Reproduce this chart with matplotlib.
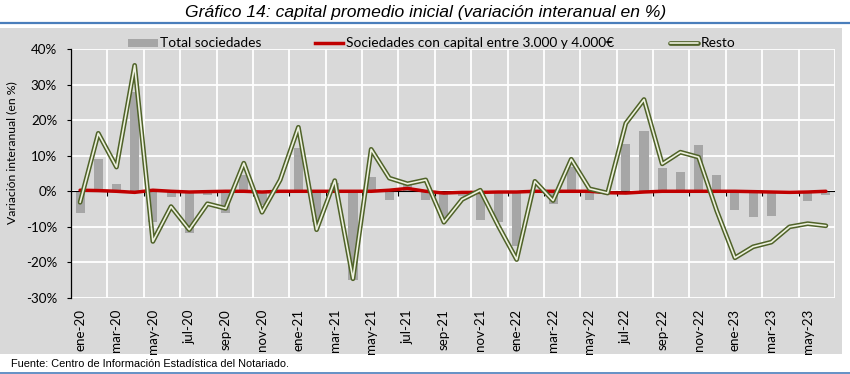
import matplotlib
matplotlib.use("Agg")
import matplotlib.pyplot as plt
import numpy as np
from matplotlib.patches import Rectangle
from matplotlib.lines import Line2D

months = ["ene", "feb", "mar", "abr", "may", "jun", "jul", "ago", "sep", "oct", "nov", "dic"]
categories = [f"{m}-{y}" for y in ["20", "21", "22", "23"] for m in months][:42]

total_sociedades = [-6.1, 9.1, 2.1, 28.0, -8.7, -1.5, -11.7, -1.0, -6.1, 4.5,
                    -3.8, 0.5, 12.1, -8.7, 2.3, -24.8, 4.1, -2.4, 2.1, -2.4,
                    -7.5, -1.4, -8.0, -8.5, -15.5, 0.5, -3.5, 6.9, -2.4, -0.5,
                    13.3, 17.0, 6.5, 5.5, 13.0, 4.6, -5.2, -7.3, -6.9, -0.2,
                    -2.6, -1.1]

soc_3000_4000 = [0.3, 0.2, 0.0, -0.3, 0.3, 0.0, -0.2, -0.1, 0.0, 0.0,
                 -0.2, 0.0, 0.0, 0.0, 0.0, 0.0, 0.0, 0.3, 0.8, 0.0,
                 -0.5, -0.3, -0.3, -0.2, -0.2, 0.0, 0.0, 0.0, 0.0, -0.4,
                 -0.5, -0.2, 0.0, 0.0, 0.0, 0.0, 0.0, -0.1, -0.2, -0.3,
                 -0.2, 0.0]

resto = [-3.1, 16.3, 6.8, 35.4, -14.1, -4.3, -10.8, -3.5, -4.8, 7.9,
         -5.9, 3.2, 18.0, -10.8, 3.0, -24.6, 11.8, 3.7, 2.1, 3.2,
         -8.7, -2.3, 0.3, -9.8, -19.2, 2.8, -2.6, 9.0, 0.7, -0.5,
         19.1, 25.8, 7.7, 11.0, 9.6, -5.5, -18.7, -15.6, -14.3, -10.0,
         -9.1, -9.7]

yticks = [40, 30, 20, 10, 0, -10, -20, -30]
ytick_labels = [f"{v}%" for v in yticks]

BG = "#d9d9d9"
W, H = 850, 374
fig = plt.figure(figsize=(W / 100, H / 100), dpi=100)
fig.patch.set_facecolor("white")

# gray chart area
fig.patches.append(Rectangle((0, 1 - 354 / H), 842 / W, (354 - 28) / H,
                             transform=fig.transFigure, facecolor=BG,
                             edgecolor="none", zorder=-5))
# blue lines
fig.lines.append(Line2D([0, 1], [1 - 22.7 / H] * 2, transform=fig.transFigure,
                        color="#4a7ebb", lw=1.6))
fig.lines.append(Line2D([0, 1], [1 - 372.5 / H] * 2, transform=fig.transFigure,
                        color="#4a7ebb", lw=1.2))

left, right, top, bottom = 71, 835, 49, 298
ax = fig.add_axes([left / W, 1 - bottom / H, (right - left) / W, (bottom - top) / H])
ax.set_zorder(1)
ax.set_facecolor(BG)

n = len(categories)
x = np.arange(n)
ax.set_xlim(-0.5, n - 0.5)
ax.set_ylim(-30, 40)

# grid
for yv in yticks:
    ax.axhline(yv, color="white", lw=1.3, zorder=1)
for b in np.arange(-0.5, n, 2):
    ax.axvline(b, color="white", lw=1.3, zorder=1)

ax.bar(x, total_sociedades, width=0.5, color="#a6a6a6", zorder=2)

# horizontal axis at 0 with tick marks
ax.axhline(0, color="black", lw=0.8, zorder=2.5)
ax.vlines(np.arange(1.5, n, 2), -1.2, 0, color="black", lw=0.8, zorder=2.5)

ax.plot(x, soc_3000_4000, color="#c00000", lw=2.5, zorder=3, solid_capstyle="round")
ax.plot(x, resto, color="#4f6228", lw=3.4, zorder=4, solid_joinstyle="round",
        solid_capstyle="round")
ax.plot(x, resto, color="#eef2e0", lw=1.2, zorder=5, solid_joinstyle="round",
        solid_capstyle="round")

for s in ["top", "right", "bottom"]:
    ax.spines[s].set_visible(False)
ax.spines["left"].set_color("black")
ax.spines["left"].set_linewidth(0.9)
ax.spines["left"].set_zorder(6)

font = ["Lato", "DejaVu Sans"]
ax.set_yticks(yticks)
ax.set_yticklabels(ytick_labels, fontsize=9.6, family=font)
ax.tick_params(axis="y", length=3, width=0.8, pad=7, direction="out")

ax.set_xticks(x[::2])
ax.set_xticklabels(categories[::2], rotation=90, fontsize=9.6, family=font)
ax.tick_params(axis="x", length=0, pad=8)

fig.text(12 / W, 1 - 153 / H, "Variación interanual (en %)", rotation=90,
         ha="center", va="center", fontsize=8.8, family=font)

# title
fig.text(426 / W, 1 - 12 / H, "Gráfico 14: capital promedio inicial (variación interanual en %)",
         ha="center", va="center", fontsize=12.6, style="italic",
         family=["Liberation Sans Narrow", "Liberation Sans"])

# footer
fig.text(11 / W, 1 - 364 / H, "Fuente: Centro de Información Estadística del Notariado.",
         ha="left", va="center", fontsize=7.9,
         family=["Liberation Sans Narrow", "Liberation Sans"])

# legend
ly = 1 - 42.7 / H
fs_leg = 9.9
fig.patches.append(Rectangle((128 / W, 1 - 46.5 / H), 30 / W, 8 / H,
                             transform=fig.transFigure, facecolor="#a6a6a6",
                             edgecolor="none"))
fig.text(160 / W, ly, "Total sociedades", ha="left", va="center", fontsize=fs_leg, family=font)
fig.lines.append(Line2D([315 / W, 343 / W], [ly, ly], transform=fig.transFigure,
                        color="#c00000", lw=2.5))
fig.text(346 / W, ly, "Sociedades con capital entre 3.000 y 4.000€", ha="left",
         va="center", fontsize=fs_leg, family=font)
fig.lines.append(Line2D([670 / W, 698 / W], [ly, ly], transform=fig.transFigure,
                        color="#4f6228", lw=3.4, solid_capstyle="round"))
fig.lines.append(Line2D([670 / W, 698 / W], [ly, ly], transform=fig.transFigure,
                        color="#eef2e0", lw=1.2, solid_capstyle="round"))
fig.text(701 / W, ly, "Resto", ha="left", va="center", fontsize=fs_leg, family=font)

fig.savefig("out.png", dpi=100, facecolor="white")
